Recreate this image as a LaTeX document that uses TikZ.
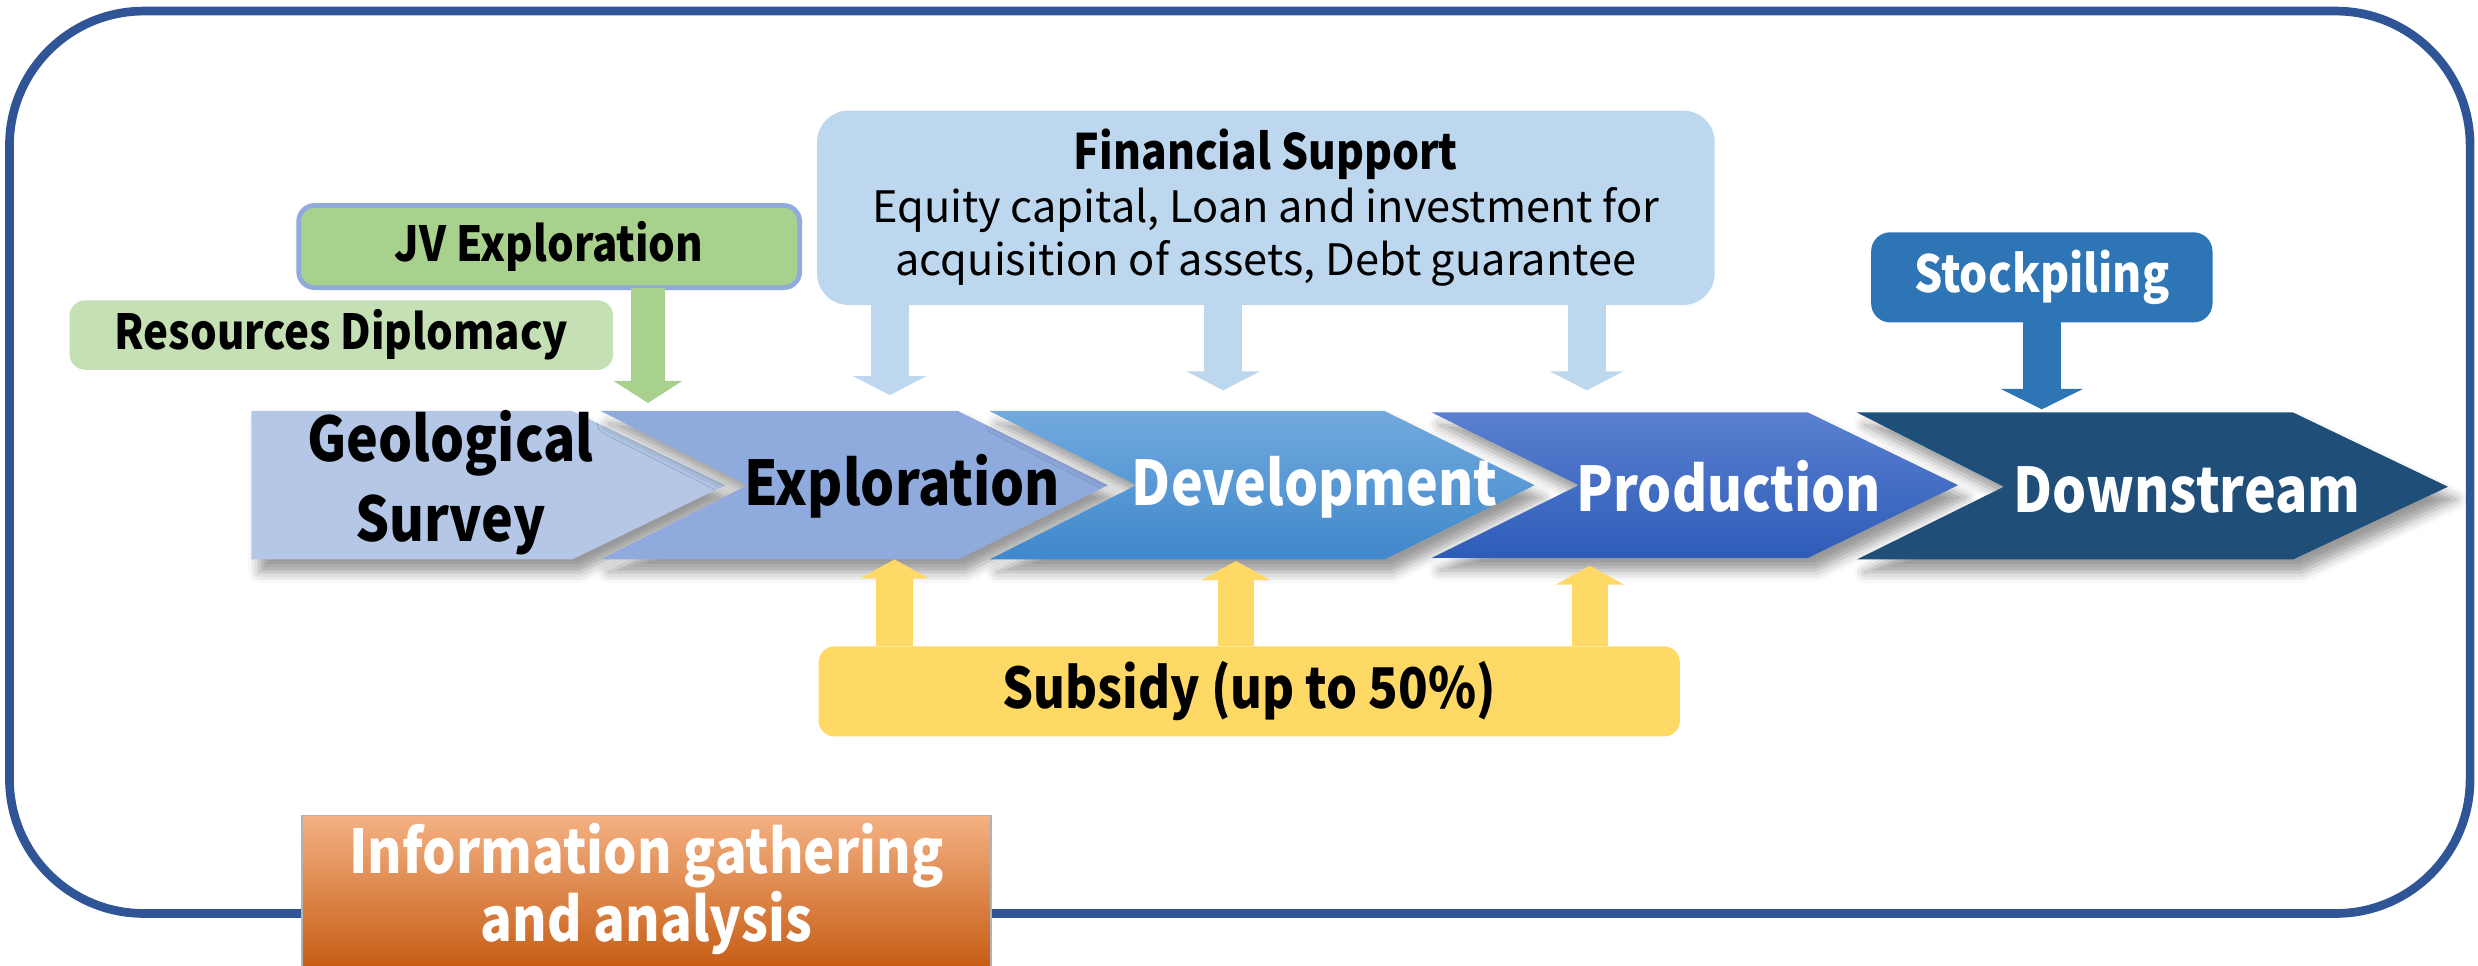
\documentclass[tikz,border=0pt]{standalone}
\usepackage{fontspec}
\setmainfont{Noto Sans CJK JP}[BoldFeatures={FakeStretch=0.87}]
\usetikzlibrary{arrows.meta,shadows.blur}
\definecolor{frameblue}{HTML}{2F5597}
\definecolor{finblue}{HTML}{BDD7EE}
\definecolor{jvgreen}{HTML}{A9D18E}
\definecolor{rdgreen}{HTML}{C5E0B4}
\definecolor{stockblue}{HTML}{2E75B6}
\definecolor{geoblue}{HTML}{B4C7E7}
\definecolor{explblue}{HTML}{8FAADC}
\definecolor{devtop}{HTML}{72A9DE}
\definecolor{devbot}{HTML}{3F88CB}
\definecolor{prodtop}{HTML}{5B80D0}
\definecolor{prodbot}{HTML}{2D5CB8}
\definecolor{downblue}{HTML}{1F4E79}
\definecolor{subyellow}{HTML}{FFD966}
\definecolor{infotop}{HTML}{F4B183}
\definecolor{infomid}{HTML}{ED7D31}
\definecolor{infobot}{HTML}{C55A11}
\begin{document}
\begin{tikzpicture}[x=0.1mm,y=-0.1mm,
  chev/.style={blur shadow={shadow xshift=0.5mm,shadow yshift=-0.8mm,shadow blur radius=0.7mm,shadow opacity=40}},
  boxlbl/.style={inner sep=0pt,outer sep=0pt,align=center},
  blockarrow/.style={line width=2.4mm,-{Triangle[width=4.6mm,length=1.2mm]}},
  chevtxt/.style={font=\fontsize{11.1}{14.5}\selectfont\bfseries,align=center,inner sep=0pt}
]
\useasboundingbox (0,0) rectangle (1568,611);
% outer frame
\draw[frameblue,line width=0.55mm,rounded corners=8.5mm] (6,7) rectangle (1563,578);

% top boxes
\node[boxlbl,fill=finblue,rounded corners=2mm,minimum width=56.8mm,minimum height=12.3mm,
      font=\fontsize{7.8}{9.55}\selectfont] (fin) at (801,131.5)
  {{\fontsize{8.8}{9.55}\selectfont\bfseries Financial Support}\\Equity capital, Loan and investment for\\acquisition of assets, Debt guarantee};
\node[boxlbl,fill=jvgreen,draw=explblue,line width=0.3mm,rounded corners=1mm,minimum width=31.7mm,minimum height=5.2mm,
      font=\fontsize{8.7}{10}\selectfont\bfseries] (jv) at (347.5,156) {JV Exploration};
\node[boxlbl,fill=rdgreen,rounded corners=1mm,minimum width=34.4mm,minimum height=4.4mm,
      font=\fontsize{8.7}{10}\selectfont\bfseries] (rd) at (216,212) {Resources Diplomacy};
\node[boxlbl,fill=stockblue,rounded corners=1.2mm,minimum width=21.6mm,minimum height=5.7mm,text=white,
      font=\fontsize{9.2}{10}\selectfont\bfseries] (stock) at (1292,175.5) {Stockpiling};
\node[boxlbl,fill=subyellow,rounded corners=1mm,minimum width=54.5mm,minimum height=5.7mm,
      font=\fontsize{10.1}{12}\selectfont\bfseries] (sub) at (790.5,437.5) {Subsidy (up to 50\%)};

% chevrons
\path[chev,fill=geoblue] (159,260) -- (362,260) -- (459,307) -- (362,354) -- (159,354) -- cycle;
\path[chev,fill=explblue] (380,260) -- (606,260) -- (701,307) -- (606,354) -- (380,354) -- (473,307) -- cycle;
\path[chev,top color=devtop,bottom color=devbot] (626,260) -- (876,260) -- (971,307) -- (876,354) -- (626,354) -- (719,307) -- cycle;
\path[chev,top color=prodtop,bottom color=prodbot] (906,261) -- (1144,261) -- (1239,307) -- (1144,353) -- (906,353) -- (999,307) -- cycle;
\path[chev,fill=downblue] (1175,261) -- (1451,261) -- (1549,308) -- (1451,354) -- (1175,354) -- (1268,308) -- cycle;

\node[chevtxt] (geo) at (285,305.5) {Geological\\Survey};
\node[chevtxt] (expl) at (571,308) {Exploration};
\node[chevtxt,text=white] (dev) at (832,308) {Development};
\node[chevtxt,text=white] (prod) at (1094,308) {Production};
\node[chevtxt,text=white] (down) at (1384,310) {Downstream};

% arrow end points
\coordinate (jvend) at (410,255);
\coordinate (f1) at (563,250);
\coordinate (f2) at (774,247);
\coordinate (f3) at (1004,247);
\coordinate (stend) at (1292,259);
\coordinate (s1) at (566,354);
\coordinate (s2) at (782,355);
\coordinate (s3) at (1006,358);

\draw[blockarrow,jvgreen,line width=2.2mm,-{Triangle[width=4.3mm,length=1.4mm]}] (jv.south -| jvend) -- (jvend);
\draw[blockarrow,finblue] (fin.south -| f1) -- (f1);
\draw[blockarrow,finblue] (fin.south -| f2) -- (f2);
\draw[blockarrow,finblue] (fin.south -| f3) -- (f3);
\draw[blockarrow,stockblue,-{Triangle[width=5.2mm,length=1.3mm]}] (stock.south -| stend) -- (stend);
\draw[blockarrow,subyellow,line width=2.3mm,-{Triangle[width=4.3mm,length=1.2mm]}] (sub.north -| s1) -- (s1);
\draw[blockarrow,subyellow,line width=2.3mm,-{Triangle[width=4.3mm,length=1.2mm]}] (sub.north -| s2) -- (s2);
\draw[blockarrow,subyellow,line width=2.3mm,-{Triangle[width=4.3mm,length=1.2mm]}] (sub.north -| s3) -- (s3);

% information box
\shade[top color=infotop,middle color=infomid,bottom color=infobot,draw=gray!60,line width=0.1mm] (191,516) rectangle (627,615);
\node[chevtxt,text=white,font=\fontsize{10.9}{12.2}\selectfont\bfseries] (info) at (409,562.5) {Information gathering\\and analysis};
\end{tikzpicture}
\end{document}
